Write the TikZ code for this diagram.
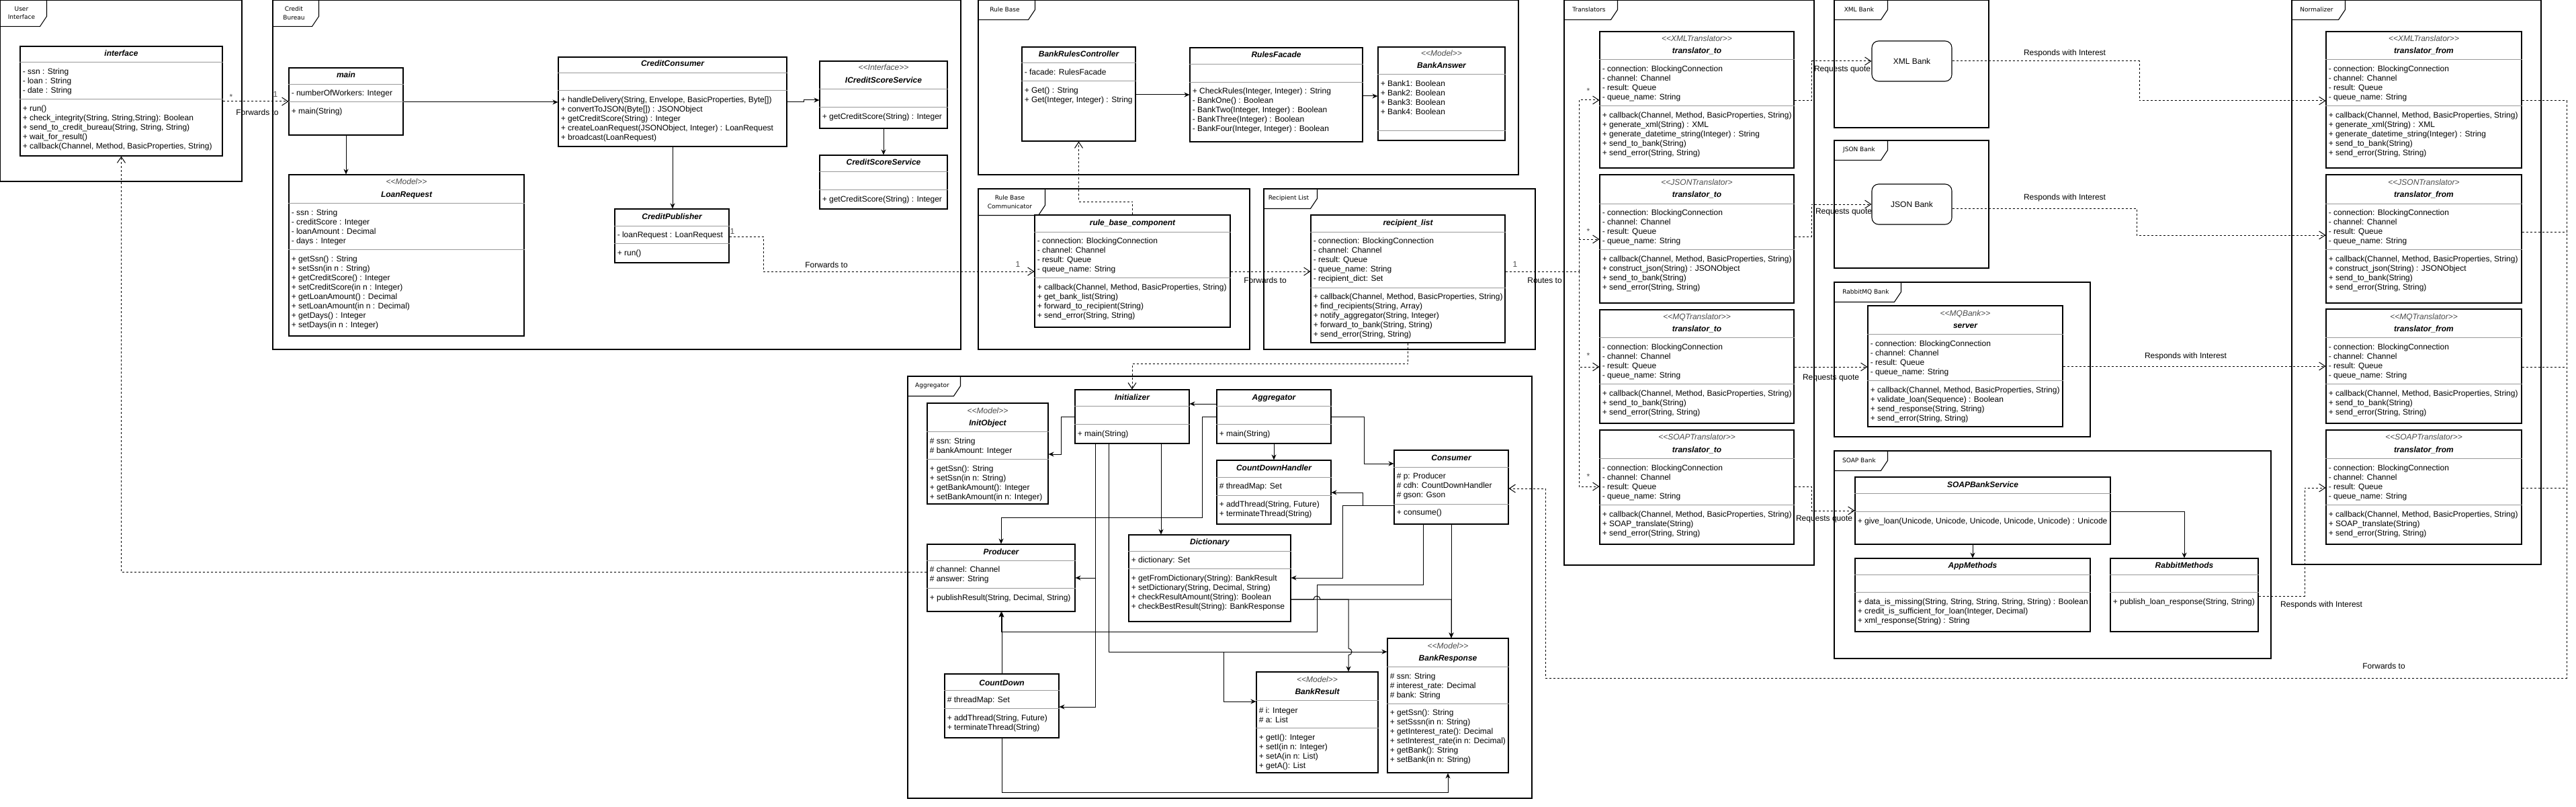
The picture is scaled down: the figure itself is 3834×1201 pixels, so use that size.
\documentclass[tikz,border=0pt]{standalone}
\usepackage{fontspec}
\setmainfont{Liberation Sans}
\newfontfamily\tabfont{DejaVu Sans}
\usetikzlibrary{arrows.meta}
\usetikzlibrary{fit}

\newcommand{\rowfont}{\fontsize{12}{14}\selectfont}
\newcommand{\stereo}[1]{<\kern0pt<#1>\kern0pt>}

% package frame with its name tab
\newcommand{\umlframe}[6]{%
  \node[pkgframe, fit={(#2) (#3)}] (#1) {};
  \draw[pkgframe] (#1.north west) ++(0,#5) -- ++({#4-10},0) -- ++(10,-15) -- ++(0,{15-#5});
  \node[tablabel, xshift={(#4-5)/2}, yshift={-#5/2}] (#1-tab) at (#1.north west) {#6};
}
% class box, compartment line, name, stereotype, rows
\newcommand{\umlbox}[3]{\node[classbox, fit={(#2) (#3)}] (#1) {};}
\newcommand{\umlsep}[2]{\draw[sepline] (#1.west |- 0,#2) -- (#1.east |- 0,#2);}
\newcommand{\umltitle}[3]{\pgfmathsetmacro{\titley}{#2+4}\node[titletext] (#1-title) at (#1.north |- 0,\titley) {#3};}
\newcommand{\umlstereo}[3]{\pgfmathsetmacro{\titley}{#2+4}\node[stereotext] (#1-stereo) at (#1.north |- 0,\titley) {#3};}
\newcommand{\umlrows}[4]{%
  \foreach \rowtxt [count=\rowno] in {#4} {%
    \pgfmathsetmacro{\rowy}{#3+4+14*(\rowno-1)}
    \node[rowtext] (#1-#2\rowno) at (#1.west |- 0,\rowy) {\rowtxt};
  }%
}

\begin{document}
\begin{tikzpicture}[
    > = stealth, % arrow head style
    x = 1pt, y = -1pt, % one unit per pixel, y downwards
    semithick % line style
  ]

  \tikzstyle{pkgframe}=[draw = black, line width = 1.1pt, inner sep = 0pt]
  \tikzstyle{classbox}=[draw = black, line width = 1.1pt, fill = white, inner sep = 0pt]
  \tikzstyle{bankbox}=[draw = black, line width = 1.1pt, fill = white, rounded corners = 10pt,
                       minimum width = 119pt, minimum height = 60pt, font = \rowfont]
  \tikzstyle{sepline}=[draw = black!40, line width = 1pt]
  \tikzstyle{titletext}=[anchor = base, inner sep = 0pt, font = \rowfont\bfseries\itshape]
  \tikzstyle{stereotext}=[anchor = base, inner sep = 0pt, font = \rowfont\itshape, text = black!70]
  \tikzstyle{rowtext}=[anchor = base west, inner sep = 0pt, xshift = 4pt, font = \rowfont]
  \tikzstyle{tablabel}=[inner sep = 0pt, align = center, font = \tabfont\fontsize{9}{12.5}\selectfont]
  \tikzstyle{assoc}=[-{Stealth[length = 8pt, width = 7pt]}, line width = 1pt]
  \tikzstyle{dep}=[-{Straight Barb[length = 9pt, width = 12pt]}, dash pattern = on 3pt off 3pt, line width = 1pt]
  \tikzstyle{link}=[dash pattern = on 3pt off 3pt, line width = 1pt]
  \tikzstyle{edgelabel}=[inner sep = 1pt, font = \rowfont]
  \tikzstyle{mult}=[inner sep = 1pt, font = \rowfont, text = black!70]

  \useasboundingbox (0,0) rectangle (3834,1201);

  % packages
  \umlframe{uiframe}{0,0}{360,270}{70}{40}{User\\Interface}
  \umlframe{cbframe}{406,0}{1430,520}{69}{40}{Credit\\Bureau}
  \umlframe{rbframe}{1456,0}{2260,260}{85}{30}{Rule Base}
  \umlframe{rbcframe}{1456,281}{1860,520}{100}{40}{Rule Base\\Communicator}
  \umlframe{rlframe}{1881,281}{2285,520}{80}{30}{Recipient List}
  \umlframe{trframe}{2328,0}{2700,841}{80}{30}{Translators}
  \umlframe{xbframe}{2730,0}{2960,190}{80}{30}{XML Bank}
  \umlframe{jbframe}{2730,209}{2960,399}{80}{30}{JSON Bank}
  \umlframe{rmqframe}{2730,420}{3111,650}{100}{30}{RabbitMQ Bank}
  \umlframe{sbframe}{2730,671}{3380,980}{80}{30}{SOAP Bank}
  \umlframe{nrframe}{3411,0}{3782,840}{80}{30}{Normalizer}
  \umlframe{agframe}{1351,560}{2280,1188}{79}{30}{Aggregator}

  % user interface
  \umlbox{interface}{30,69}{331,232}
  \umltitle{interface}{80}{interface}
  \umlsep{interface}{93} \umlsep{interface}{148}
  \umlrows{interface}{a}{107}{{- ssn : String},{- loan : String},{- date : String}}
  \umlrows{interface}{m}{162}{{+ run()},{+ check\_integrity(String, String,String): Boolean},{+ send\_to\_credit\_bureau(String, String, String)},{+ wait\_for\_result()},{+ callback(Channel, Method, BasicProperties, String)}}

  % credit bureau
  \umlbox{mainc}{430,101}{600,201}
  \umltitle{mainc}{112}{main}
  \umlsep{mainc}{126} \umlsep{mainc}{152}
  \umlrows{mainc}{a}{139}{{- numberOfWorkers: Integer}}
  \umlrows{mainc}{m}{166}{{+ main(String)}}

  \umlbox{loanreq}{430,260}{780,500}
  \umlstereo{loanreq}{270}{\stereo{Model}}
  \umltitle{loanreq}{289}{LoanRequest}
  \umlsep{loanreq}{302} \umlsep{loanreq}{371}
  \umlrows{loanreq}{a}{316}{{- ssn : String},{- creditScore : Integer},{- loanAmount : Decimal},{- days : Integer}}
  \umlrows{loanreq}{m}{385}{{+ getSsn() : String},{+ setSsn(in n : String)},{+ getCreditScore() : Integer},{+ setCreditScore(in n : Integer)},{+ getLoanAmount() : Decimal},{+ setLoanAmount(in n : Decimal)},{+ getDays() : Integer},{+ setDays(in n : Integer)}}

  \umlbox{creditcons}{831,85}{1171,218}
  \umltitle{creditcons}{95}{CreditConsumer}
  \umlsep{creditcons}{109} \umlsep{creditcons}{135}
  \umlrows{creditcons}{m}{149}{{+ handleDelivery(String, Envelope, BasicProperties, Byte[])},{+ convertToJSON(Byte[]) : JSONObject},{+ getCreditScore(String) : Integer},{+ createLoanRequest(JSONObject, Integer) : LoanRequest},{+ broadcast(LoanRequest)}}

  \umlbox{icss}{1220,91}{1410,191}
  \umlstereo{icss}{101}{\stereo{Interface}}
  \umltitle{icss}{120}{ICreditScoreService}
  \umlsep{icss}{133} \umlsep{icss}{160}
  \umlrows{icss}{m}{174}{{+ getCreditScore(String) : Integer}}

  \umlbox{css}{1220,231}{1410,311}
  \umltitle{css}{242}{CreditScoreService}
  \umlsep{css}{255} \umlsep{css}{282}
  \umlrows{css}{m}{296}{{+ getCreditScore(String) : Integer}}

  \umlbox{creditpub}{915,311}{1085,391}
  \umltitle{creditpub}{322}{CreditPublisher}
  \umlsep{creditpub}{336} \umlsep{creditpub}{362}
  \umlrows{creditpub}{a}{349}{{- loanRequest : LoanRequest}}
  \umlrows{creditpub}{m}{376}{{+ run()}}

  % rule base
  \umlbox{bankrules}{1521,70}{1690,210}
  \umltitle{bankrules}{81}{BankRulesController}
  \umlsep{bankrules}{94} \umlsep{bankrules}{121}
  \umlrows{bankrules}{a}{108}{{- facade: RulesFacade}}
  \umlrows{bankrules}{m}{135}{{+ Get() : String},{+ Get(Integer, Integer) : String}}

  \umlbox{rulesfacade}{1771,71}{2028,211}
  \umltitle{rulesfacade}{82}{RulesFacade}
  \umlsep{rulesfacade}{96} \umlsep{rulesfacade}{123}
  \umlrows{rulesfacade}{m}{136}{{+ CheckRules(Integer, Integer) : String},{- BankOne() : Boolean},{- BankTwo(Integer, Integer) : Boolean},{- BankThree(Integer) : Boolean},{- BankFour(Integer, Integer) : Boolean}}

  \umlbox{bankanswer}{2051,70}{2240,209}
  \umlstereo{bankanswer}{80}{\stereo{Model}}
  \umltitle{bankanswer}{98}{BankAnswer}
  \umlsep{bankanswer}{111} \umlsep{bankanswer}{195}
  \umlrows{bankanswer}{a}{125}{{+ Bank1: Boolean},{+ Bank2: Boolean},{+ Bank3: Boolean},{+ Bank4: Boolean}}

  % rule base communicator and recipient list
  \umlbox{rbcomp}{1540,320}{1831,487}
  \umltitle{rbcomp}{331}{rule\_base\_component}
  \umlsep{rbcomp}{345} \umlsep{rbcomp}{413}
  \umlrows{rbcomp}{a}{358}{{- connection: BlockingConnection},{- channel: Channel},{- result: Queue},{- queue\_name: String}}
  \umlrows{rbcomp}{m}{427}{{+ callback(Channel, Method, BasicProperties, String)},{+ get\_bank\_list(String)},{+ forward\_to\_recipient(String)},{+ send\_error(String, String)}}

  \umlbox{reclist}{1951,320}{2240,510}
  \umltitle{reclist}{331}{recipient\_list}
  \umlsep{reclist}{345} \umlsep{reclist}{428}
  \umlrows{reclist}{a}{358}{{- connection: BlockingConnection},{- channel: Channel},{- result: Queue},{- queue\_name: String},{- recipient\_dict: Set}}
  \umlrows{reclist}{m}{441}{{+ callback(Channel, Method, BasicProperties, String)},{+ find\_recipients(String, Array)},{+ notify\_aggregator(String, Integer)},{+ forward\_to\_bank(String, String)},{+ send\_error(String, String)}}

  % translators
  \umlbox{xmlto}{2381,47}{2670,250}
  \umlstereo{xmlto}{58}{\stereo{XMLTranslator}}
  \umltitle{xmlto}{76}{translator\_to}
  \umlsep{xmlto}{89} \umlsep{xmlto}{158}
  \umlrows{xmlto}{a}{103}{{- connection: BlockingConnection},{- channel: Channel},{- result: Queue},{- queue\_name: String}}
  \umlrows{xmlto}{m}{172}{{+ callback(Channel, Method, BasicProperties, String)},{+ generate\_xml(String) : XML},{+ generate\_datetime\_string(Integer) : String},{+ send\_to\_bank(String)},{+ send\_error(String, String)}}

  \umlbox{jsonto}{2381,260}{2670,451}
  \umlstereo{jsonto}{271}{<\kern0pt<JSONTranslator>}
  \umltitle{jsonto}{289}{translator\_to}
  \umlsep{jsonto}{303} \umlsep{jsonto}{371}
  \umlrows{jsonto}{a}{316}{{- connection: BlockingConnection},{- channel: Channel},{- result: Queue},{- queue\_name: String}}
  \umlrows{jsonto}{m}{385}{{+ callback(Channel, Method, BasicProperties, String)},{+ construct\_json(String) : JSONObject},{+ send\_to\_bank(String)},{+ send\_error(String, String)}}

  \umlbox{mqto}{2381,461}{2670,630}
  \umlstereo{mqto}{471}{\stereo{MQTranslator}}
  \umltitle{mqto}{489}{translator\_to}
  \umlsep{mqto}{502} \umlsep{mqto}{571}
  \umlrows{mqto}{a}{516}{{- connection: BlockingConnection},{- channel: Channel},{- result: Queue},{- queue\_name: String}}
  \umlrows{mqto}{m}{585}{{+ callback(Channel, Method, BasicProperties, String)},{+ send\_to\_bank(String)},{+ send\_error(String, String)}}

  \umlbox{soapto}{2381,640}{2670,810}
  \umlstereo{soapto}{650}{\stereo{SOAPTranslator}}
  \umltitle{soapto}{669}{translator\_to}
  \umlsep{soapto}{682} \umlsep{soapto}{751}
  \umlrows{soapto}{a}{696}{{- connection: BlockingConnection},{- channel: Channel},{- result: Queue},{- queue\_name: String}}
  \umlrows{soapto}{m}{765}{{+ callback(Channel, Method, BasicProperties, String)},{+ SOAP\_translate(String)},{+ send\_error(String, String)}}

  % banks
  \node[bankbox] (xmlbank) at (2845.5,91) {XML Bank};
  \node[bankbox] (jsonbank) at (2845.5,304) {JSON Bank};

  \umlbox{server}{2780,455}{3070,635}
  \umlstereo{server}{466}{\stereo{MQBank}}
  \umltitle{server}{484}{server}
  \umlsep{server}{497} \umlsep{server}{566}
  \umlrows{server}{a}{511}{{- connection: BlockingConnection},{- channel: Channel},{- result: Queue},{- queue\_name: String}}
  \umlrows{server}{m}{580}{{+ callback(Channel, Method, BasicProperties, String)},{+ validate\_loan(Sequence) : Boolean},{+ send\_response(String, String)},{+ send\_error(String, String)}}

  \umlbox{soapsvc}{2761,710}{3141,810}
  \umltitle{soapsvc}{721}{SOAPBankService}
  \umlsep{soapsvc}{734} \umlsep{soapsvc}{761}
  \umlrows{soapsvc}{m}{775}{{+ give\_loan(Unicode, Unicode, Unicode, Unicode, Unicode) : Unicode}}

  \umlbox{appmeth}{2761,831}{3111,940}
  \umltitle{appmeth}{841}{AppMethods}
  \umlsep{appmeth}{855} \umlsep{appmeth}{881}
  \umlrows{appmeth}{m}{895}{{+ data\_is\_missing(String, String, String, String, String) : Boolean},{+ credit\_is\_sufficient\_for\_loan(Integer, Decimal)},{+ xml\_response(String) : String}}

  \umlbox{rabbitmeth}{3141,831}{3361,940}
  \umltitle{rabbitmeth}{841}{RabbitMethods}
  \umlsep{rabbitmeth}{855} \umlsep{rabbitmeth}{881}
  \umlrows{rabbitmeth}{m}{895}{{+ publish\_loan\_response(String, String)}}

  % normalizer
  \umlbox{xmlfrom}{3462,47}{3753,250}
  \umlstereo{xmlfrom}{58}{\stereo{XMLTranslator}}
  \umltitle{xmlfrom}{76}{translator\_from}
  \umlsep{xmlfrom}{89} \umlsep{xmlfrom}{158}
  \umlrows{xmlfrom}{a}{103}{{- connection: BlockingConnection},{- channel: Channel},{- result: Queue},{- queue\_name: String}}
  \umlrows{xmlfrom}{m}{172}{{+ callback(Channel, Method, BasicProperties, String)},{+ generate\_xml(String) : XML},{+ generate\_datetime\_string(Integer) : String},{+ send\_to\_bank(String)},{+ send\_error(String, String)}}

  \umlbox{jsonfrom}{3462,260}{3753,451}
  \umlstereo{jsonfrom}{271}{<\kern0pt<JSONTranslator>}
  \umltitle{jsonfrom}{289}{translator\_from}
  \umlsep{jsonfrom}{303} \umlsep{jsonfrom}{371}
  \umlrows{jsonfrom}{a}{316}{{- connection: BlockingConnection},{- channel: Channel},{- result: Queue},{- queue\_name: String}}
  \umlrows{jsonfrom}{m}{385}{{+ callback(Channel, Method, BasicProperties, String)},{+ construct\_json(String) : JSONObject},{+ send\_to\_bank(String)},{+ send\_error(String, String)}}

  \umlbox{mqfrom}{3462,460}{3753,630}
  \umlstereo{mqfrom}{471}{\stereo{MQTranslator}}
  \umltitle{mqfrom}{489}{translator\_from}
  \umlsep{mqfrom}{502} \umlsep{mqfrom}{571}
  \umlrows{mqfrom}{a}{516}{{- connection: BlockingConnection},{- channel: Channel},{- result: Queue},{- queue\_name: String}}
  \umlrows{mqfrom}{m}{585}{{+ callback(Channel, Method, BasicProperties, String)},{+ send\_to\_bank(String)},{+ send\_error(String, String)}}

  \umlbox{soapfrom}{3462,640}{3753,810}
  \umlstereo{soapfrom}{650}{\stereo{SOAPTranslator}}
  \umltitle{soapfrom}{669}{translator\_from}
  \umlsep{soapfrom}{682} \umlsep{soapfrom}{751}
  \umlrows{soapfrom}{a}{696}{{- connection: BlockingConnection},{- channel: Channel},{- result: Queue},{- queue\_name: String}}
  \umlrows{soapfrom}{m}{765}{{+ callback(Channel, Method, BasicProperties, String)},{+ SOAP\_translate(String)},{+ send\_error(String, String)}}

  % aggregator
  \umlbox{initobj}{1380,600}{1560,750}
  \umlstereo{initobj}{611}{\stereo{Model}}
  \umltitle{initobj}{629}{InitObject}
  \umlsep{initobj}{642} \umlsep{initobj}{683}
  \umlrows{initobj}{a}{656}{{\# ssn: String},{\# bankAmount: Integer}}
  \umlrows{initobj}{m}{697}{{+ getSsn(): String},{+ setSsn(in n: String)},{+ getBankAmount(): Integer},{+ setBankAmount(in n: Integer)}}

  \umlbox{initializer}{1600,580}{1770,660}
  \umltitle{initializer}{591}{Initializer}
  \umlsep{initializer}{604} \umlsep{initializer}{631}
  \umlrows{initializer}{m}{645}{{+ main(String)}}

  \umlbox{aggmain}{1811,580}{1981,660}
  \umltitle{aggmain}{591}{Aggregator}
  \umlsep{aggmain}{604} \umlsep{aggmain}{631}
  \umlrows{aggmain}{m}{645}{{+ main(String)}}

  \umlbox{cdhandler}{1811,685}{1981,780}
  \umltitle{cdhandler}{696}{CountDownHandler}
  \umlsep{cdhandler}{710} \umlsep{cdhandler}{737}
  \umlrows{cdhandler}{a}{723}{{\# threadMap: Set}}
  \umlrows{cdhandler}{m}{750}{{+ addThread(String, Future)},{+ terminateThread(String)}}

  \umlbox{consumer}{2075,670}{2245,780}
  \umltitle{consumer}{681}{Consumer}
  \umlsep{consumer}{695} \umlsep{consumer}{750}
  \umlrows{consumer}{a}{708}{{\# p: Producer},{\# cdh: CountDownHandler},{\# gson: Gson}}
  \umlrows{consumer}{m}{762}{{+ consume()}}

  \umlbox{dictionary}{1680,796}{1921,925}
  \umltitle{dictionary}{806}{Dictionary}
  \umlsep{dictionary}{820} \umlsep{dictionary}{846}
  \umlrows{dictionary}{a}{833}{{+ dictionary: Set}}
  \umlrows{dictionary}{m}{860}{{+ getFromDictionary(String): BankResult},{+ setDictionary(String, Decimal, String)},{+ checkResultAmount(String): Boolean},{+ checkBestResult(String): BankResponse}}

  \umlbox{producer}{1380,810}{1600,910}
  \umltitle{producer}{821}{Producer}
  \umlsep{producer}{834} \umlsep{producer}{875}
  \umlrows{producer}{a}{847}{{\# channel: Channel},{\# answer: String}}
  \umlrows{producer}{m}{889}{{+ publishResult(String, Decimal, String)}}

  \umlbox{countdown}{1406,1003}{1576,1098}
  \umltitle{countdown}{1016}{CountDown}
  \umlsep{countdown}{1027} \umlsep{countdown}{1054}
  \umlrows{countdown}{a}{1041}{{\# threadMap: Set}}
  \umlrows{countdown}{m}{1068}{{+ addThread(String, Future)},{+ terminateThread(String)}}

  \umlbox{bankresult}{1870,1000}{2051,1150}
  \umlstereo{bankresult}{1011}{\stereo{Model}}
  \umltitle{bankresult}{1029}{BankResult}
  \umlsep{bankresult}{1042} \umlsep{bankresult}{1083}
  \umlrows{bankresult}{a}{1057}{{\# i: Integer},{\# a: List}}
  \umlrows{bankresult}{m}{1097}{{+ getI(): Integer},{+ setI(in n: Integer)},{+ setA(in n: List)},{+ getA(): List}}

  \umlbox{bankresponse}{2065,950}{2245,1150}
  \umlstereo{bankresponse}{961}{\stereo{Model}}
  \umltitle{bankresponse}{979}{BankResponse}
  \umlsep{bankresponse}{992} \umlsep{bankresponse}{1047}
  \umlrows{bankresponse}{a}{1006}{{\# ssn: String},{\# interest\_rate: Decimal},{\# bank: String}}
  \umlrows{bankresponse}{m}{1060}{{+ getSsn(): String},{+ setSssn(in n: String)},{+ getInterest\_rate(): Decimal},{+ setInterest\_rate(in n: Decimal)},{+ getBank(): String},{+ setBank(in n: String)}}

  % associations
  \draw[assoc] (mainc.east |- 0,152) -- (creditcons.west |- 0,152);
  \draw[assoc] (mainc.south) -- (mainc.south |- loanreq.north);
  \draw[assoc] (creditcons.east |- 0,152) -| (1196,149) -- (icss.west |- 0,149);
  \draw[assoc] (creditcons.south) -- (creditcons.south |- creditpub.north);
  \draw[assoc] (icss.south) -- (css.north);
  \draw[assoc] (bankrules.east |- 0,141) -- (rulesfacade.west |- 0,141);
  \draw[assoc] (rulesfacade.east |- 0,143) -- (bankanswer.west |- 0,143);
  \draw[assoc] (appmeth.north |- soapsvc.south) -- (appmeth.north);
  \draw[assoc] (soapsvc.east |- 0,761) -| (rabbitmeth.north);

  \draw[assoc] (aggmain.west |- 0,601) -- (initializer.east |- 0,601);
  \draw[assoc] (initializer.west |- 0,620) -- ++(-20,0) |- (initobj.east |- 0,676);
  \draw[assoc] (aggmain.west |- 0,620) -- ++(-21,0) |- (producer.north |- 0,770) -- (producer.north);
  \draw[assoc] (initializer.south -| 1728,0) -- (dictionary.north -| 1728,0);
  \draw[assoc] (initializer.south -| 1630,0) |- (producer.east |- 0,860);
  \draw[assoc] (initializer.south -| 1630,0) |- (countdown.east |- 0,1052);
  \draw[assoc] (initializer.south -| 1650,0) |- (bankresponse.west |- 0,970);
  \draw[assoc] (initializer.south -| 1650,0) |- (1821,970) |- (bankresult.west |- 0,1044);
  \draw[assoc] (aggmain.south) -- (cdhandler.north);
  \draw[assoc] (aggmain.east |- 0,620) -- ++(49,0) |- (consumer.west |- 0,690);
  \draw[assoc] (consumer.west |- 0,752) -- ++(-46,0) |- (cdhandler.east |- 0,733);
  \draw[assoc] (consumer.west |- 0,752) -- ++(-76,0) |- (dictionary.east |- 0,860);
  \draw[assoc] (consumer.south) -- (consumer.south |- bankresponse.north);
  \draw[assoc] (consumer.south -| 2118,0) |- (1960,870) -- (1960,940) -| (producer.south);
  \draw[assoc] (countdown.north) -- (countdown.north |- producer.south);
  \draw[assoc] (countdown.south) |- (bankresponse.south |- 0,1179) -- (bankresponse.south);
  \draw[assoc] (dictionary.east |- 0,892) -- (1955,892) arc[start angle=180, end angle=360, radius=5]
    -- (consumer.south |- 0,892) -- (consumer.south |- bankresponse.north);
  \draw[assoc] (dictionary.east |- 0,892) -- (2007,892) -- (2007,965) arc[start angle=-90, end angle=90, radius=5]
    -- (bankresult.north -| 2007,0);

  % messages
  \draw[dep] (interface.east |- 0,151) -- (mainc.west |- 0,151);
  \draw[dep] (producer.west |- 0,851) -| (interface.south);
  \draw[dep] (creditpub.east |- 0,352) -- (1136,352) |- (rbcomp.west |- 0,404);
  \draw[dep] (rbcomp.north) -- (rbcomp.north |- 0,300) -| (bankrules.south);
  \draw[dep] (rbcomp.east |- 0,404) -- (reclist.west |- 0,404);
  \draw[dep] (reclist.south) -- ++(0,31) -| (initializer.north);

  \coordinate (rjoin) at (2350,404);
  \draw[link] (reclist.east |- 0,404) -- (rjoin);
  \draw[dep] (rjoin) |- (xmlto.west |- 0,149);
  \draw[dep] (rjoin) |- (jsonto.west |- 0,356);
  \draw[dep] (rjoin) |- (mqto.west |- 0,546);
  \draw[dep] (rjoin) |- (soapto.west |- 0,724);

  \draw[dep] (xmlto.east |- 0,150) -- (2696,150) |- (xmlbank.west);
  \draw[dep] (jsonto.east |- 0,352) -- (2696,352) |- (jsonbank.west);
  \draw[dep] (mqto.east |- 0,546) -- (server.west |- 0,546);
  \draw[dep] (soapto.east |- 0,724) -- (2696,724) |- (soapsvc.west |- 0,760);

  \draw[dep] (xmlbank.east) -- (3184,91) |- (xmlfrom.west |- 0,150);
  \draw[dep] (jsonbank.east |- 0,310) -- (3180,310) |- (jsonfrom.west |- 0,350);
  \draw[dep] (server.east |- 0,545) -- (mqfrom.west |- 0,545);
  \draw[dep] (rabbitmeth.east |- 0,887) -- (3430,887) |- (soapfrom.west |- 0,726);

  \coordinate (nturn) at (3820,1009);
  \coordinate (njson) at (3820,345);
  \coordinate (nmq) at (3820,546);
  \coordinate (nsoap) at (3820,726);
  \draw[dep] (xmlfrom.east |- 0,150) -- (3820,150) -- (nturn) -- (2300,1009) |- (consumer.east |- 0,727);
  \draw[link] (jsonfrom.east |- 0,345) -- (njson);
  \draw[link] (mqfrom.east |- 0,546) -- (nmq);
  \draw[link] (soapfrom.east |- 0,726) -- (nsoap);

  % labels
  \node[mult] (m-ui) at (344,144) {*};
  \node[mult] (m-main) at (410,140) {1};
  \node[edgelabel] (l-ui) at (383,167) {Forwards to};
  \node[mult] (m-pub) at (1090,344) {1};
  \node[edgelabel] (l-pub) at (1230,394) {Forwards to};
  \node[mult] (m-rbc) at (1515,393) {1};
  \node[edgelabel] (l-rbc) at (1883,417) {Forwards to};
  \node[mult] (m-rl) at (2255,393) {1};
  \node[edgelabel] (l-rl) at (2299,417) {Routes to};
  \node[mult] (m-xml) at (2364,135) {*};
  \node[mult] (m-json) at (2364,344) {*};
  \node[mult] (m-mq) at (2364,529) {*};
  \node[mult] (m-soap) at (2364,709) {*};
  \node[edgelabel] (q-xml) at (2742,104) {Requests quote};
  \node[edgelabel] (q-json) at (2744,316) {Requests quote};
  \node[edgelabel] (q-mq) at (2725,563) {Requests quote};
  \node[edgelabel] (q-soap) at (2715,773) {Requests quote};
  \node[edgelabel] (r-xml) at (3073,79) {Responds with Interest};
  \node[edgelabel] (r-json) at (3073,294) {Responds with Interest};
  \node[edgelabel] (r-mq) at (3253,530) {Responds with Interest};
  \node[edgelabel] (r-soap) at (3455,900) {Responds with Interest};
  \node[edgelabel] (l-norm) at (3548,991) {Forwards to};
\end{tikzpicture}
\end{document}
